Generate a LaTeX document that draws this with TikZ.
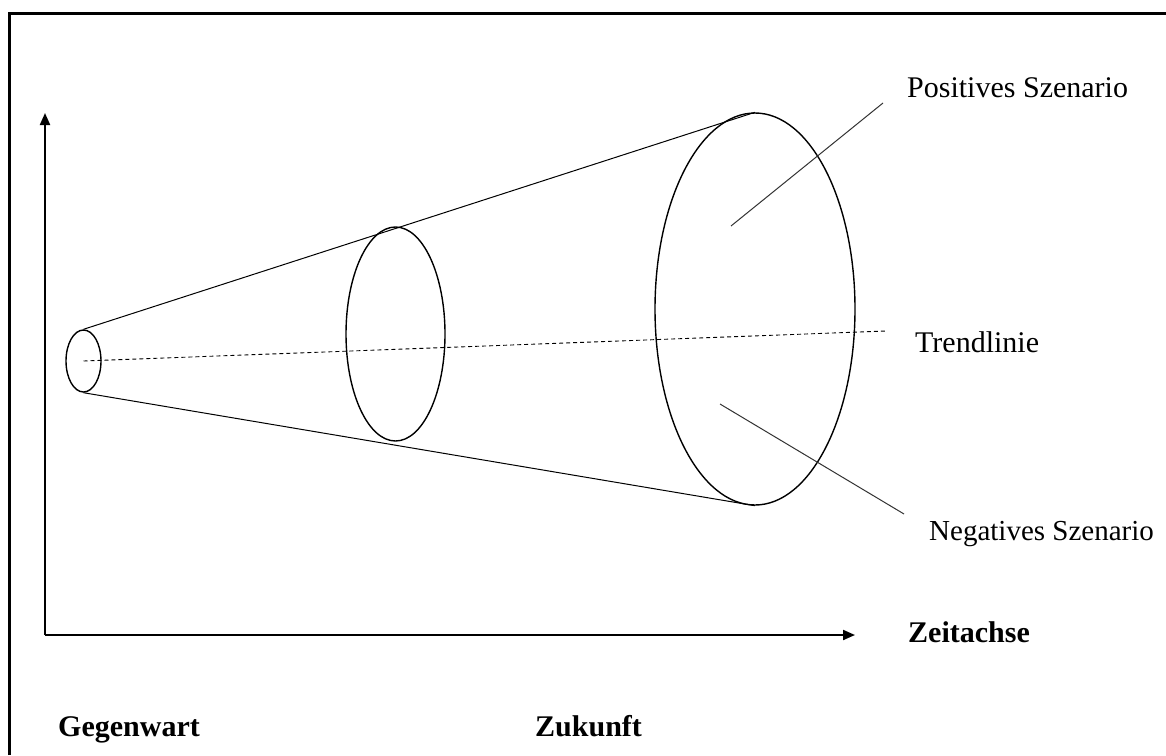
\documentclass[tikz,border=0pt]{standalone}
\usepackage{fontspec}
\setmainfont{Liberation Serif}
\usetikzlibrary{shapes.geometric,arrows.meta}
\begin{document}
\begin{tikzpicture}[x=1pt,y=-1pt,
  frameline/.style={line width=3pt},
  axisline/.style={line width=2pt,-{Triangle[length=12pt,width=10pt]}},
  cone/.style={ellipse,draw,line width=1.4pt,inner sep=0pt},
  tangent/.style={line width=1pt},
  trend/.style={line width=0.9pt,dash pattern=on 4pt off 3pt},
  pointer/.style={line width=1pt,draw=black!80},
  lbl/.style={font=\fontsize{30}{36}\selectfont,anchor=base west,inner sep=0pt},
  blbl/.style={lbl,font=\fontsize{30}{36}\selectfont\bfseries}]
\useasboundingbox (0,0) rectangle (1166,755);
\fill[white] (0,0) rectangle (1166,755);
\draw[frameline] (9,755) -- (9,13) -- (1166,13);
% axes
\coordinate (o) at (45,635);
\coordinate (ytip) at (45,113);
\coordinate (xtip) at (855,635);
\draw[axisline] (o) -- (ytip);
\draw[axisline] (o) -- (xtip);
% ellipses
\node[cone,minimum width=35pt,minimum height=62pt] (e1) at (83.5,361) {};
\node[cone,minimum width=99pt,minimum height=214pt] (e2) at (395.5,334) {};
\node[cone,minimum width=200pt,minimum height=392pt] (e3) at (755,309) {};
\draw[tangent] (e1.north) -- (e3.north);
\draw[tangent] (e1.south) -- (e3.south);
% trend line
\coordinate (tend) at (886,331);
\draw[trend] (e1.center) -- (tend);
% pointers
\coordinate (p1) at (731,226);
\coordinate (p2) at (883,103);
\coordinate (n1) at (720,404);
\coordinate (n2) at (904,514);
\draw[pointer] (p1) -- (p2);
\draw[pointer] (n1) -- (n2);
% labels
\node[lbl] (pos) at (907,97) {Positives Szenario};
\node[lbl] (tr) at (915,352) {Trendlinie};
\node[lbl,font=\fontsize{29}{35}\selectfont] (neg) at (929,540) {Negatives Szenario};
\node[blbl] (zeit) at (908,642) {Zeitachse};
\node[blbl] (geg) at (58,736) {Gegenwart};
\node[blbl] (zuk) at (535,736) {Zukunft};
\end{tikzpicture}
\end{document}
